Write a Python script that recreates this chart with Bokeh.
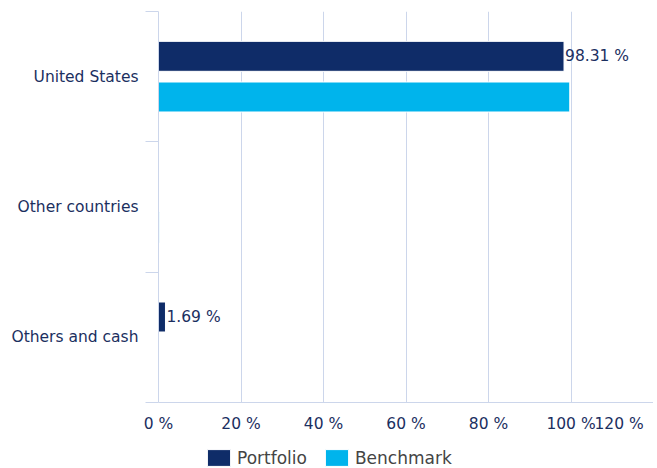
from bokeh.plotting import figure
from bokeh.layouts import column
from bokeh.models import (ColumnDataSource, Range1d, FixedTicker, PrintfTickFormatter,
                          Legend, LegendItem)
from bokeh.core.properties import value
from bokeh.embed import file_html
from bokeh.resources import INLINE

# ---- data ----
categories = ["United States", "Other countries", "Others and cash"]
portfolio = [98.31, 0.0, 1.69]
benchmark = [99.7, 0.2, 0.0]
x_ticks = [0, 20, 40, 60, 80, 100, 120]
series_names = ["Portfolio", "Benchmark"]

# ---- style ----
FONT = "DejaVu Sans"
NAVY_TEXT = "#1b2f5f"
AXIS_COL = "#ccd6eb"
C_PORT = "#0f2c68"
C_BENCH = "#00b4ec"
OFF = 0.156
BAR_H = 0.230
FS = "15.5px"
NBSP = "\u00a0"

n = len(categories)
centers = [n - 1 - i + 0.5 for i in range(n)]

src = ColumnDataSource(dict(
    cat=categories,
    port=portfolio,
    bench=benchmark,
    yp=[c + OFF for c in centers],
    yb=[c - OFF for c in centers],
))
lab = ColumnDataSource(dict(
    x=[v for v in portfolio if v > 0],
    y=[c + OFF for c, v in zip(centers, portfolio) if v > 0],
    t=[f"{v:.2f} %" for v in portfolio if v > 0],
))

p = figure(width=653, height=436, output_backend="svg", toolbar_location=None,
           x_range=Range1d(0, x_ticks[-1]), y_range=Range1d(0, n),
           min_border_left=158, min_border_right=0, min_border_top=11,
           min_border_bottom=34)
p.outline_line_color = None
p.background_fill_color = "white"

bar_styles = [dict(fill_color=C_PORT, line_color="white", line_width=1),
              dict(fill_color=C_BENCH, line_color="white", line_width=1)]

r1 = p.hbar(y="yp", left=0, right="port", height=BAR_H, source=src, **bar_styles[0])
r2 = p.hbar(y="yb", left=0, right="bench", height=BAR_H, source=src, **bar_styles[1])

p.text(x="x", y="y", text="t", source=lab, x_offset=1,
       text_baseline="middle", text_align="left",
       text_font=value(FONT), text_font_size=FS, text_color=NAVY_TEXT)

# x axis; the last tick label is padded so that it ends at the axis end
xa = p.xaxis[0]
xa.ticker = FixedTicker(ticks=x_ticks)
xa.formatter = PrintfTickFormatter(format="%d %%")
xa.major_label_overrides = {x_ticks[-1]: f"{x_ticks[-1]} %" + NBSP * 2}
xa.axis_line_color = AXIS_COL
xa.major_tick_line_color = None
xa.minor_tick_line_color = None
xa.major_tick_out = 0
xa.major_label_standoff = 12
xa.major_label_text_font = FONT
xa.major_label_text_font_size = FS
xa.major_label_text_color = NAVY_TEXT

p.xgrid.ticker = FixedTicker(ticks=x_ticks)
p.xgrid.grid_line_color = AXIS_COL
p.ygrid.grid_line_color = None

# y axis: ticks at the category boundaries, labels at the centres
ya = p.yaxis[0]
ya.ticker = FixedTicker(ticks=centers, minor_ticks=list(range(n + 1)))
ya.major_label_overrides = {c: cat for c, cat in zip(centers, categories)}
ya.major_tick_line_color = None
ya.major_tick_out = 0
ya.major_tick_in = 0
ya.minor_tick_out = 13
ya.minor_tick_in = 0
ya.minor_tick_line_color = AXIS_COL
ya.axis_line_color = AXIS_COL
ya.major_label_standoff = 7
ya.major_label_text_font = FONT
ya.major_label_text_font_size = FS
ya.major_label_text_color = NAVY_TEXT

# legend strip below the chart
lf = figure(width=653, height=32, output_backend="svg", toolbar_location=None,
            x_range=Range1d(-2, -1), y_range=Range1d(0, n),
            x_axis_location=None, y_axis_location=None,
            min_border_left=158, min_border_right=0, min_border_top=11,
            min_border_bottom=0)
lf.outline_line_color = None
lf.grid.visible = False
l1 = lf.hbar(y="yp", left=0, right="port", height=BAR_H, source=src, **bar_styles[0])
l2 = lf.hbar(y="yb", left=0, right="bench", height=BAR_H, source=src, **bar_styles[1])

legend = Legend(items=[LegendItem(label=series_names[0], renderers=[l1]),
                       LegendItem(label=series_names[1], renderers=[l2])],
                orientation="horizontal", location=(46, 0),
                glyph_width=29, glyph_height=21, label_standoff=4, spacing=15,
                padding=0, margin=0, border_line_color=None,
                background_fill_alpha=0,
                label_text_font=FONT, label_text_font_size="17px",
                label_text_color="#444444")
lf.add_layout(legend, "center")

layout = column(p, lf)
open("out.html", "w").write(file_html(layout, INLINE))
